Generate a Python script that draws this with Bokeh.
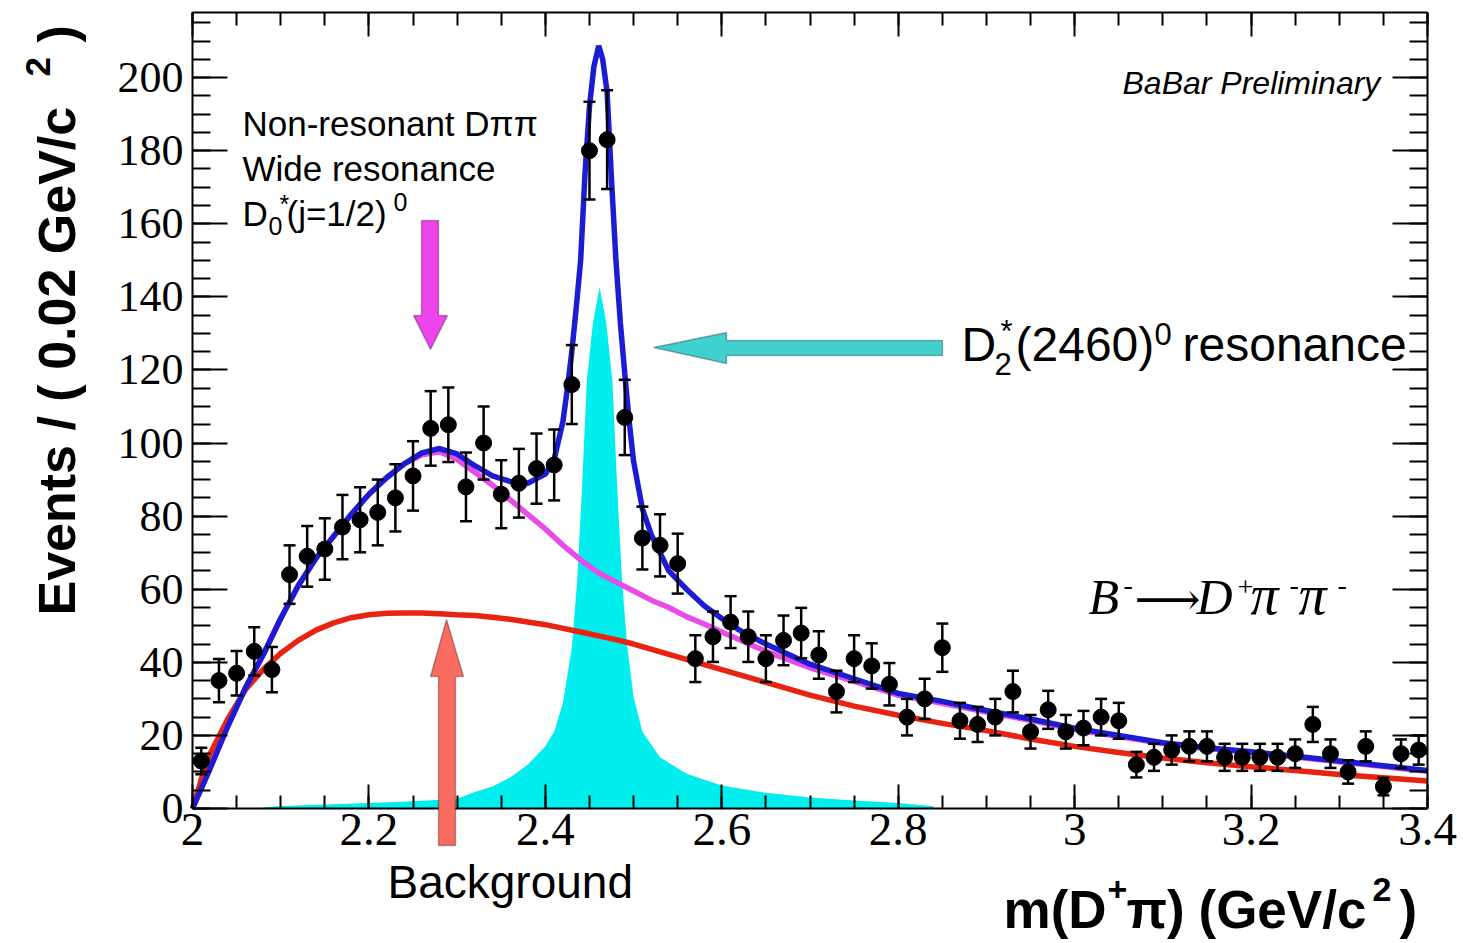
from bokeh.plotting import figure
from bokeh.models import (Range1d, SingleIntervalTicker, LinearAxis, Label, PolyAnnotation,
                          ColumnDataSource, Whisker, TeeHead, CustomJSTickFormatter)
from bokeh.embed import file_html
from bokeh.resources import INLINE

# ---------------- data ----------------
mass = [2.01, 2.03, 2.05, 2.07, 2.09, 2.11, 2.13, 2.15, 2.17, 2.19,
        2.21, 2.23, 2.25, 2.27, 2.29, 2.31, 2.33, 2.35, 2.37, 2.39,
        2.41, 2.43, 2.45, 2.47, 2.49, 2.51, 2.53, 2.55, 2.57, 2.59,
        2.61, 2.63, 2.65, 2.67, 2.69, 2.71, 2.73, 2.75, 2.77, 2.79,
        2.81, 2.83, 2.85, 2.87, 2.89, 2.91, 2.93, 2.95, 2.97, 2.99,
        3.01, 3.03, 3.05, 3.07, 3.09, 3.11, 3.13, 3.15, 3.17, 3.19,
        3.21, 3.23, 3.25, 3.27, 3.29, 3.31, 3.33, 3.35, 3.37, 3.39]
events = [13, 35, 37, 43, 38, 64, 69, 71, 77, 79,
          81, 85, 91, 104, 105, 88, 100, 86, 89, 93,
          94, 116, 180, 183, 107, 74, 72, 67, 41, 47,
          51, 47, 41, 46, 48, 42, 32, 41, 39, 34,
          25, 30, 44, 24, 23, 25, 32, 21, 27, 21,
          22, 25, 24, 12, 14, 16, 17, 17, 14, 14,
          14, 14, 15, 23, 15, 10, 17, 6, 15, 16]
errors = [3.6, 5.9, 6.1, 6.6, 6.2, 8.0, 8.3, 8.4, 8.8, 8.9,
          9.0, 9.2, 9.5, 10.2, 10.2, 9.4, 10.0, 9.3, 9.4, 9.6,
          9.7, 10.8, 13.4, 13.5, 10.3, 8.6, 8.5, 8.2, 6.4, 6.9,
          7.1, 6.9, 6.4, 6.8, 6.9, 6.5, 5.7, 6.4, 6.2, 5.8,
          5.0, 5.5, 6.6, 4.9, 4.8, 5.0, 5.7, 4.6, 5.2, 4.6,
          4.7, 5.0, 4.9, 3.5, 3.7, 4.0, 4.1, 4.1, 3.7, 3.7,
          3.7, 3.7, 3.9, 4.8, 3.9, 3.2, 4.1, 2.4, 3.9, 4.0]

# total fit (blue)
total_x = [2.00, 2.01, 2.02, 2.04, 2.06, 2.08, 2.10, 2.12, 2.14, 2.16, 2.18, 2.20,
           2.22, 2.24, 2.26, 2.28, 2.30, 2.32, 2.34, 2.36, 2.38, 2.40, 2.41, 2.42,
           2.425, 2.43, 2.435, 2.44, 2.445, 2.45, 2.455, 2.4605, 2.465, 2.47, 2.475,
           2.48, 2.485, 2.49, 2.495, 2.50, 2.51, 2.52, 2.54, 2.56, 2.58, 2.60, 2.62,
           2.65, 2.70, 2.75, 2.80, 2.85, 2.90, 2.95, 3.00, 3.05, 3.10, 3.15, 3.20,
           3.25, 3.30, 3.35, 3.40]
total_y = [0, 5.5, 11, 22.5, 33, 42, 52, 61, 68.5, 74.5, 80.5, 86,
           90.5, 94.3, 97.3, 98.5, 97, 93.8, 91, 89.5, 89, 91.5, 95.5, 106,
           115, 125, 137, 150, 174, 192, 203, 208.7, 205, 196, 172,
           150, 133, 119, 106, 95, 82, 75, 65, 60, 55.5, 52, 48.8,
           45, 39.5, 35.5, 31.5, 29.3, 26.8, 24.5, 22, 20, 18, 16.6, 15.5,
           14.3, 13, 11.7, 10.4]

# background + wide D0* resonance (magenta)
wide_x = [2.00, 2.01, 2.02, 2.04, 2.06, 2.08, 2.10, 2.12, 2.14, 2.16, 2.18, 2.20,
          2.22, 2.24, 2.26, 2.28, 2.30, 2.32, 2.34, 2.36, 2.38, 2.40, 2.42, 2.44,
          2.46, 2.48, 2.50, 2.52, 2.54, 2.56, 2.58, 2.60, 2.62, 2.65, 2.70, 2.75,
          2.80, 2.85, 2.90, 2.95, 3.00, 3.05, 3.10, 3.15, 3.20, 3.25, 3.30, 3.35, 3.40]
wide_y = [0, 5.5, 11, 22.5, 33, 42, 52, 61, 68.5, 74.5, 80.5, 86,
          90.5, 94.3, 96.8, 97.6, 95.5, 92, 88.5, 84.5, 80.5, 76.5, 72, 68,
          64.5, 62, 59.5, 57, 55, 52.5, 50.5, 48.3, 46.2, 43, 38.5, 34.8,
          31, 28.8, 26.4, 24.1, 21.6, 19.7, 17.8, 16.4, 15.3, 14.1, 12.8, 11.5, 10.2]

# background (red)
bkg_x = [2.00, 2.01, 2.02, 2.04, 2.06, 2.08, 2.10, 2.12, 2.14, 2.16, 2.18, 2.20,
         2.22, 2.24, 2.26, 2.28, 2.30, 2.32, 2.34, 2.36, 2.40, 2.44, 2.48, 2.50,
         2.55, 2.60, 2.65, 2.70, 2.75, 2.80, 2.85, 2.90, 2.95, 3.00, 3.05, 3.10,
         3.15, 3.20, 3.25, 3.30, 3.35, 3.40]
bkg_y = [0, 8, 15, 24.5, 32.5, 38, 42.5, 46, 48.8, 50.8, 52.2, 53,
         53.4, 53.5, 53.5, 53.3, 53, 52.8, 52.3, 51.8, 50.3, 48.3, 46.2, 45,
         41.5, 38, 34.5, 31, 28, 25.5, 23.3, 21.3, 19, 17, 15.3, 13.8,
         12.5, 11.4, 10.4, 9.3, 8.4, 7.5]

# narrow D2*(2460) resonance (cyan fill)
narrow_x = [2.08, 2.10, 2.15, 2.20, 2.25, 2.30, 2.32, 2.34, 2.36, 2.38, 2.40, 2.41,
            2.42, 2.43, 2.436, 2.442, 2.447, 2.454, 2.4615, 2.469, 2.476, 2.481,
            2.487, 2.493, 2.50, 2.51, 2.53, 2.56, 2.60, 2.65, 2.70, 2.75, 2.80, 2.84]
narrow_y = [0.3, 0.7, 1.1, 1.5, 2, 2.7, 4.5, 6, 8.5, 12, 17, 21,
            29, 44, 62, 90, 117, 133, 142.6, 133, 117, 90,
            62, 44, 30.5, 21, 14, 9.5, 6.3, 4.3, 3, 2.2, 1.5, 0.6]

x_ticks_interval = 0.2
y_ticks_interval = 20

# ---------------- geometry ----------------
W, H = 1463, 943
FL, FR, FT, FB = 192, 1427, 12, 808          # plot box edges in pixels
XMIN, XMAX = 2.0, 3.4
YMIN, YMAX = 0.0, 217.8


def px(xp):
    return XMIN + (xp - FL) * (XMAX - XMIN) / (FR - FL)


def py(yp):
    return YMIN + (FB - yp) * (YMAX - YMIN) / (FB - FT)


# the frame covers the whole canvas; the axes are pinned to the plot box
p = figure(width=W, height=H, output_backend="svg", toolbar_location=None,
           x_range=Range1d(px(0), px(W)), y_range=Range1d(py(H), py(0)),
           min_border=0, min_border_left=0, min_border_right=0,
           min_border_top=0, min_border_bottom=0)
p.background_fill_color = "white"
p.border_fill_color = "white"
p.grid.visible = False
p.outline_line_color = None

fmt_x = CustomJSTickFormatter(code="return String(Number(tick.toFixed(1)));")
blank = CustomJSTickFormatter(code="return '';")


def style_axis(ax, tick_in, minor_in):
    ax.axis_line_color = "black"
    ax.axis_line_width = 2
    ax.major_tick_line_color = "black"
    ax.major_tick_line_width = 2
    ax.minor_tick_line_color = "black"
    ax.minor_tick_line_width = 2
    ax.major_tick_in = tick_in
    ax.major_tick_out = 0
    ax.minor_tick_in = minor_in
    ax.minor_tick_out = 0


xa = p.xaxis[0]
xa.ticker = SingleIntervalTicker(interval=x_ticks_interval, num_minor_ticks=4)
xa.formatter = fmt_x
xa.fixed_location = YMIN
xa.bounds = (XMIN, XMAX + 1e-6)
style_axis(xa, 24, 13)
xa.major_label_text_font = "Liberation Serif"
xa.major_label_text_font_size = "47px"
xa.major_label_text_color = "black"
xa.major_label_standoff = 5

ya = p.yaxis[0]
ya.ticker = SingleIntervalTicker(interval=y_ticks_interval, num_minor_ticks=4)
ya.fixed_location = XMIN
ya.bounds = (YMIN, YMAX)
style_axis(ya, 35, 18)
ya.major_label_text_font = "Liberation Serif"
ya.major_label_text_font_size = "44px"
ya.major_label_text_color = "black"
ya.major_label_standoff = 9

top = LinearAxis(ticker=SingleIntervalTicker(interval=x_ticks_interval, num_minor_ticks=4),
                 formatter=blank, major_label_text_font_size="1px", major_label_standoff=0,
                 fixed_location=YMAX, bounds=(XMIN, XMAX + 1e-6))
style_axis(top, 24, 13)
p.add_layout(top, "above")
right = LinearAxis(ticker=SingleIntervalTicker(interval=y_ticks_interval, num_minor_ticks=4),
                   formatter=blank, major_label_text_font_size="1px", major_label_standoff=0,
                   fixed_location=XMAX, bounds=(YMIN, YMAX))
style_axis(right, 35, 18)
p.add_layout(right, "right")

# ---------------- curves ----------------
p.varea(x=narrow_x, y1=[0] * len(narrow_x), y2=narrow_y, fill_color="#00eeee")
p.line(bkg_x, bkg_y, line_color="#e8230f", line_width=5.5)
p.line(wide_x, wide_y, line_color="#e84ce8", line_width=5.5)
p.line(total_x, total_y, line_color="#1c1cd4", line_width=5.5)

# ---------------- data points ----------------
src = ColumnDataSource(dict(x=mass, y=events,
                            upper=[v + e for v, e in zip(events, errors)],
                            lower=[v - e for v, e in zip(events, errors)]))
wh = Whisker(base="x", upper="upper", lower="lower", source=src,
             line_color="black", line_width=2.5, level="glyph",
             upper_head=TeeHead(size=12, line_width=2.5, line_color="black"),
             lower_head=TeeHead(size=12, line_width=2.5, line_color="black"))
p.add_layout(wh)
p.scatter("x", "y", source=src, marker="circle", size=16, color="black")

# ---------------- arrows ----------------
def poly(pts, color):
    return PolyAnnotation(xs=[px(a) for a, b in pts], ys=[py(b) for a, b in pts],
                          fill_color=color, fill_alpha=1.0,
                          line_color="black", line_width=1.5)


p.add_layout(poly([(421, 220), (438, 220), (438, 315), (447, 315), (430, 349),
                   (413, 315), (421, 315)], "#ee44ee"))
p.add_layout(poly([(942, 340), (726, 340), (726, 332), (653, 347), (726, 363),
                   (726, 355), (942, 355)], "#40d0d0"))
p.add_layout(poly([(446, 619), (463, 676), (455, 676), (455, 845), (438, 845),
                   (438, 676), (430, 676)], "#fa6c60"))

# ---------------- texts ----------------
BASE_SHIFT = 0.41   # measured offset of the "alphabetic" anchor, in em


def lab(text, xp, yp, size, font="Liberation Sans", style="normal", angle=0):
    if angle == 0:
        yp = yp - BASE_SHIFT * size
    else:
        xp = xp - BASE_SHIFT * size
    p.add_layout(Label(x=px(xp), y=py(yp), text=text, text_font=font,
                       text_font_size=f"{size}px", text_font_style=style,
                       text_color="black", text_align="left",
                       text_baseline="alphabetic", angle=angle, angle_units="deg"))


lab("BaBar Preliminary", 1122, 96, 32, style="italic")

lab("Non-resonant Dππ", 242, 137, 35)
lab("Wide resonance", 242, 182, 35)
lab("D", 242, 227, 35)
lab("0", 268, 236, 25)
lab("*", 279, 214, 25)
lab("(j=1/2)", 286, 227, 35)
lab("0", 393, 212, 25)

lab("D", 961, 364, 48)
lab("2", 994, 376, 31)
lab("*", 1000, 344, 31)
lab("(2460)", 1015, 364, 48)
lab("0", 1154, 346, 31)
lab("resonance", 1182, 364, 48)

lab("Background", 387, 900, 46)

lab("B", 1088, 617, 50, font="Liberation Serif", style="italic")
lab("-", 1123, 596, 28, font="Liberation Serif")
lab("⟶", 1134, 617, 46, font="DejaVu Serif")
lab("D", 1196, 617, 50, font="Liberation Serif", style="italic")
lab("+", 1237, 598, 28, font="Liberation Serif")
lab("π", 1250, 617, 56, font="Liberation Serif", style="italic")
lab("-", 1289, 596, 28, font="Liberation Serif")
lab("π", 1298, 617, 56, font="Liberation Serif", style="italic")
lab("-", 1337, 596, 28, font="Liberation Serif")

# axis titles
lab("m(D", 1003, 931, 53, style="bold")
lab("+", 1107, 903, 34, style="bold")
lab("π)", 1126, 931, 53, style="bold")
lab("(GeV/c", 1198, 931, 53, style="bold")
lab("2", 1372, 903, 34, style="bold")
lab(")", 1399, 931, 53, style="bold")

lab("Events / ( 0.02 GeV/c", 78, 615, 52, style="bold", angle=90)
lab("2", 52, 76, 35, style="bold", angle=90)
lab(")", 78, 42, 52, style="bold", angle=90)

open("out.html", "w").write(file_html(p, INLINE))
